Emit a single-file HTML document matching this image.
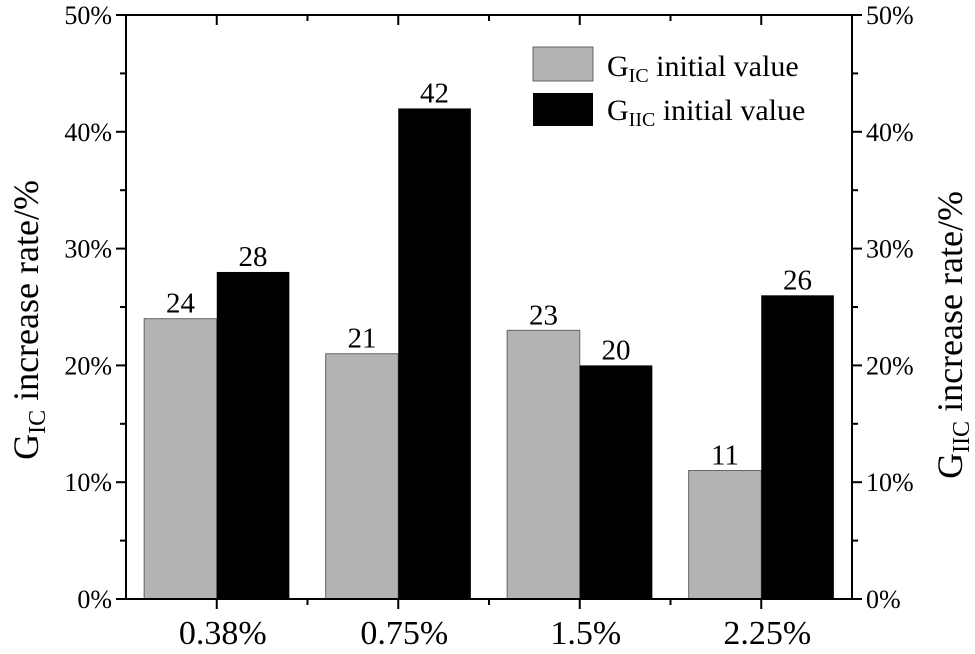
<!DOCTYPE html>
<html><head><meta charset="utf-8">
<style>
html,body{margin:0;padding:0;background:#fff;}
svg{display:block;font-family:"Liberation Serif",serif;}
</style></head>
<body>
<svg id="chart" width="975" height="654" viewBox="0 0 975 654" xmlns="http://www.w3.org/2000/svg">
<g id="bars"></g>
<g id="axes"></g>
<g>
  <rect x="533" y="47" width="60" height="34" fill="#b3b3b3" stroke="#666" stroke-width="1"/>
  <text x="607" y="76" font-size="30">G<tspan font-size="20" dy="6">IC</tspan><tspan dy="-6"> initial value</tspan></text>
  <rect x="533" y="93" width="60" height="33" fill="#000"/>
  <text x="607" y="120" font-size="30">G<tspan font-size="20" dy="6">IIC</tspan><tspan dy="-6"> initial value</tspan></text>
</g>
<text transform="translate(38,320) rotate(-90)" text-anchor="middle" font-size="36">G<tspan font-size="24" dy="7">IC</tspan><tspan dy="-7"> increase rate/%</tspan></text>
<text transform="translate(962,335) rotate(-90)" text-anchor="middle" font-size="36">G<tspan font-size="24" dy="7">IIC</tspan><tspan dy="-7"> increase rate/%</tspan></text>
</svg>
<script>
const categories = ["0.38%","0.75%","1.5%","2.25%"];
const gicValues = [24,21,23,11];
const giicValues = [28,42,20,26];
const yTicks = [0,10,20,30,40,50];
const yTickLabels = ["0%","10%","20%","30%","40%","50%"];

const NS="http://www.w3.org/2000/svg";
const L=126,R=852,T=15,B=599,YMAX=50;
const bw=(R-L)/categories.length;
const x=i=>L+bw*(i+0.5);
const y=v=>B-(v/YMAX)*(B-T);
const barW=bw*0.4;
function mk(tag,attrs,parent,txt){const e=document.createElementNS(NS,tag);for(const k in attrs)e.setAttribute(k,attrs[k]);if(txt!==undefined)e.textContent=txt;parent.appendChild(e);return e;}
const bars=document.getElementById('bars'),axes=document.getElementById('axes');
categories.forEach((c,i)=>{
  const g=gicValues[i],h=giicValues[i];
  let r=mk('rect',{x:x(i)-barW,y:y(g),width:barW,height:B-y(g),fill:'#b3b3b3',stroke:'#666','stroke-width':1},bars);
  
  
  r=mk('rect',{x:x(i),y:y(h),width:barW,height:B-y(h),fill:'#000'},bars);
  
  
  let t=mk('text',{x:x(i)-barW/2,y:y(g)-6,'text-anchor':'middle','font-size':29},bars,String(g));
  
  
  t=mk('text',{x:x(i)+barW/2,y:y(h)-6,'text-anchor':'middle','font-size':29},bars,String(h));
  
  
  t=mk('text',{x:x(i)+6,y:644,'text-anchor':'middle','font-size':34},axes,c);
  
  
  mk('line',{x1:x(i),x2:x(i),y1:B,y2:B+10,stroke:'#000','stroke-width':2},axes);
  mk('line',{x1:x(i),x2:x(i),y1:T,y2:T+10,stroke:'#000','stroke-width':2},axes);
  if(i>0){mk('line',{x1:L+bw*i,x2:L+bw*i,y1:B,y2:B+6,stroke:'#000','stroke-width':2},axes);
  mk('line',{x1:L+bw*i,x2:L+bw*i,y1:T,y2:T+6,stroke:'#000','stroke-width':2},axes);}
});
mk('rect',{x:L,y:T,width:R-L,height:B-T,fill:'none',stroke:'#000','stroke-width':2},axes);
yTicks.forEach((v,i)=>{
  mk('line',{x1:L-10,x2:L,y1:y(v),y2:y(v),stroke:'#000','stroke-width':2},axes);
  mk('line',{x1:R,x2:R+10,y1:y(v),y2:y(v),stroke:'#000','stroke-width':2},axes);
  if(i<yTicks.length-1){const m=(v+yTicks[i+1])/2;
    mk('line',{x1:L-6,x2:L,y1:y(m),y2:y(m),stroke:'#000','stroke-width':2},axes);
    mk('line',{x1:R,x2:R+6,y1:y(m),y2:y(m),stroke:'#000','stroke-width':2},axes);}
  let t=mk('text',{x:L-14,y:y(v)+9,'text-anchor':'end','font-size':26},axes,yTickLabels[i]);
  
  
  t=mk('text',{x:R+14,y:y(v)+9,'text-anchor':'start','font-size':26},axes,yTickLabels[i]);
  
  
});
</script>
</body></html>
